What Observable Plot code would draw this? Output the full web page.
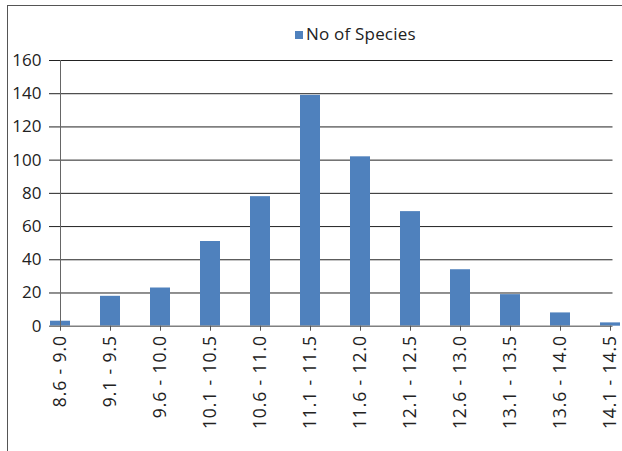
<!DOCTYPE html>
<html>
<head>
<meta charset="utf-8">
<script src="https://cdn.jsdelivr.net/npm/d3@7"></script>
<script src="https://cdn.jsdelivr.net/npm/@observablehq/plot@0.6"></script>
<style>
  html, body { margin: 0; padding: 0; background: #fff; overflow: hidden; width: 622px; height: 451px; }
  #wrap { position: relative; width: 622px; height: 451px; overflow: hidden; font-family: "Open Sans", sans-serif; }
  #legend { position: relative; height: 45px; }
  #legend .sw { position: absolute; left: 295px; top: 31px; width: 8px; height: 8px; }
  #legend .lb { position: absolute; left: 306px; top: 25px; font-size: 17px; line-height: 17px; letter-spacing: 0.2px; color: #222; white-space: nowrap; }
  #border { position: absolute; left: 7px; top: 5px; right: -10px; bottom: -10px; border-left: 1px solid #555; border-top: 1px solid #555; pointer-events: none; }
  .xax text { letter-spacing: 0.9px; }
</style>
</head>
<body>
<div id="wrap">
  <div id="legend"></div>
  <div id="chart"></div>
  <div id="border"></div>
</div>
<script>
const categories = ["8.6 - 9.0","9.1 - 9.5","9.6 - 10.0","10.1 - 10.5","10.6 - 11.0","11.1 - 11.5","11.6 - 12.0","12.1 - 12.5","12.6 - 13.0","13.1 - 13.5","13.6 - 14.0","14.1 - 14.5"];
const species = [3, 18, 23, 51, 78, 139, 102, 69, 34, 19, 8, 2];
const yTicks = [0, 20, 40, 60, 80, 100, 120, 140, 160];
const seriesName = "No of Species";
const barColor = "#4F81BD";

const data = categories.map((c, i) => ({cat: c, n: species[i]}));

// legend
const lg = document.getElementById("legend");
const sw = document.createElement("div");
sw.className = "sw"; sw.style.background = barColor;
const lb = document.createElement("div");
lb.className = "lb"; lb.textContent = seriesName;
lg.appendChild(sw); lg.appendChild(lb);

const step = (612.5 - 57.3) / 11;
const chart = Plot.plot({
  width: 622,
  height: 406,
  marginTop: 15,
  marginBottom: 125.3,
  marginLeft: 49,
  marginRight: 9.5,
  x: {type: "band", domain: categories, range: [57.3 - step / 2, 57.3 - step / 2 + 12 * step], paddingInner: 0.6, paddingOuter: 0.3, label: null},
  y: {domain: [0, 160], label: null},
  style: {fontFamily: "'Open Sans', sans-serif", fontSize: "17px", overflow: "hidden", color: "#222", background: "transparent"},
  marks: [
    Plot.ruleY(yTicks.filter(d => d > 0), {stroke: "#222", strokeWidth: 1}),
    Plot.barY(data, {x: "cat", y: "n", fill: barColor}),
    Plot.ruleY([0], {stroke: "#808080", strokeWidth: 1.5}),
    Plot.ruleX([categories[0]], {y1: 0, y2: 160, stroke: "#666"}),
    Plot.axisY({ticks: yTicks, tickSize: 0, tickPadding: 8, fontSize: 17, fill: "#222"}),
    Plot.axisX({tickSize: 5, tickPadding: 4, tickRotate: -90, fontSize: 17.5, stroke: "#555", fill: "#222", className: "xax"})
  ]
});
document.getElementById("chart").appendChild(chart);
</script>
</body>
</html>
